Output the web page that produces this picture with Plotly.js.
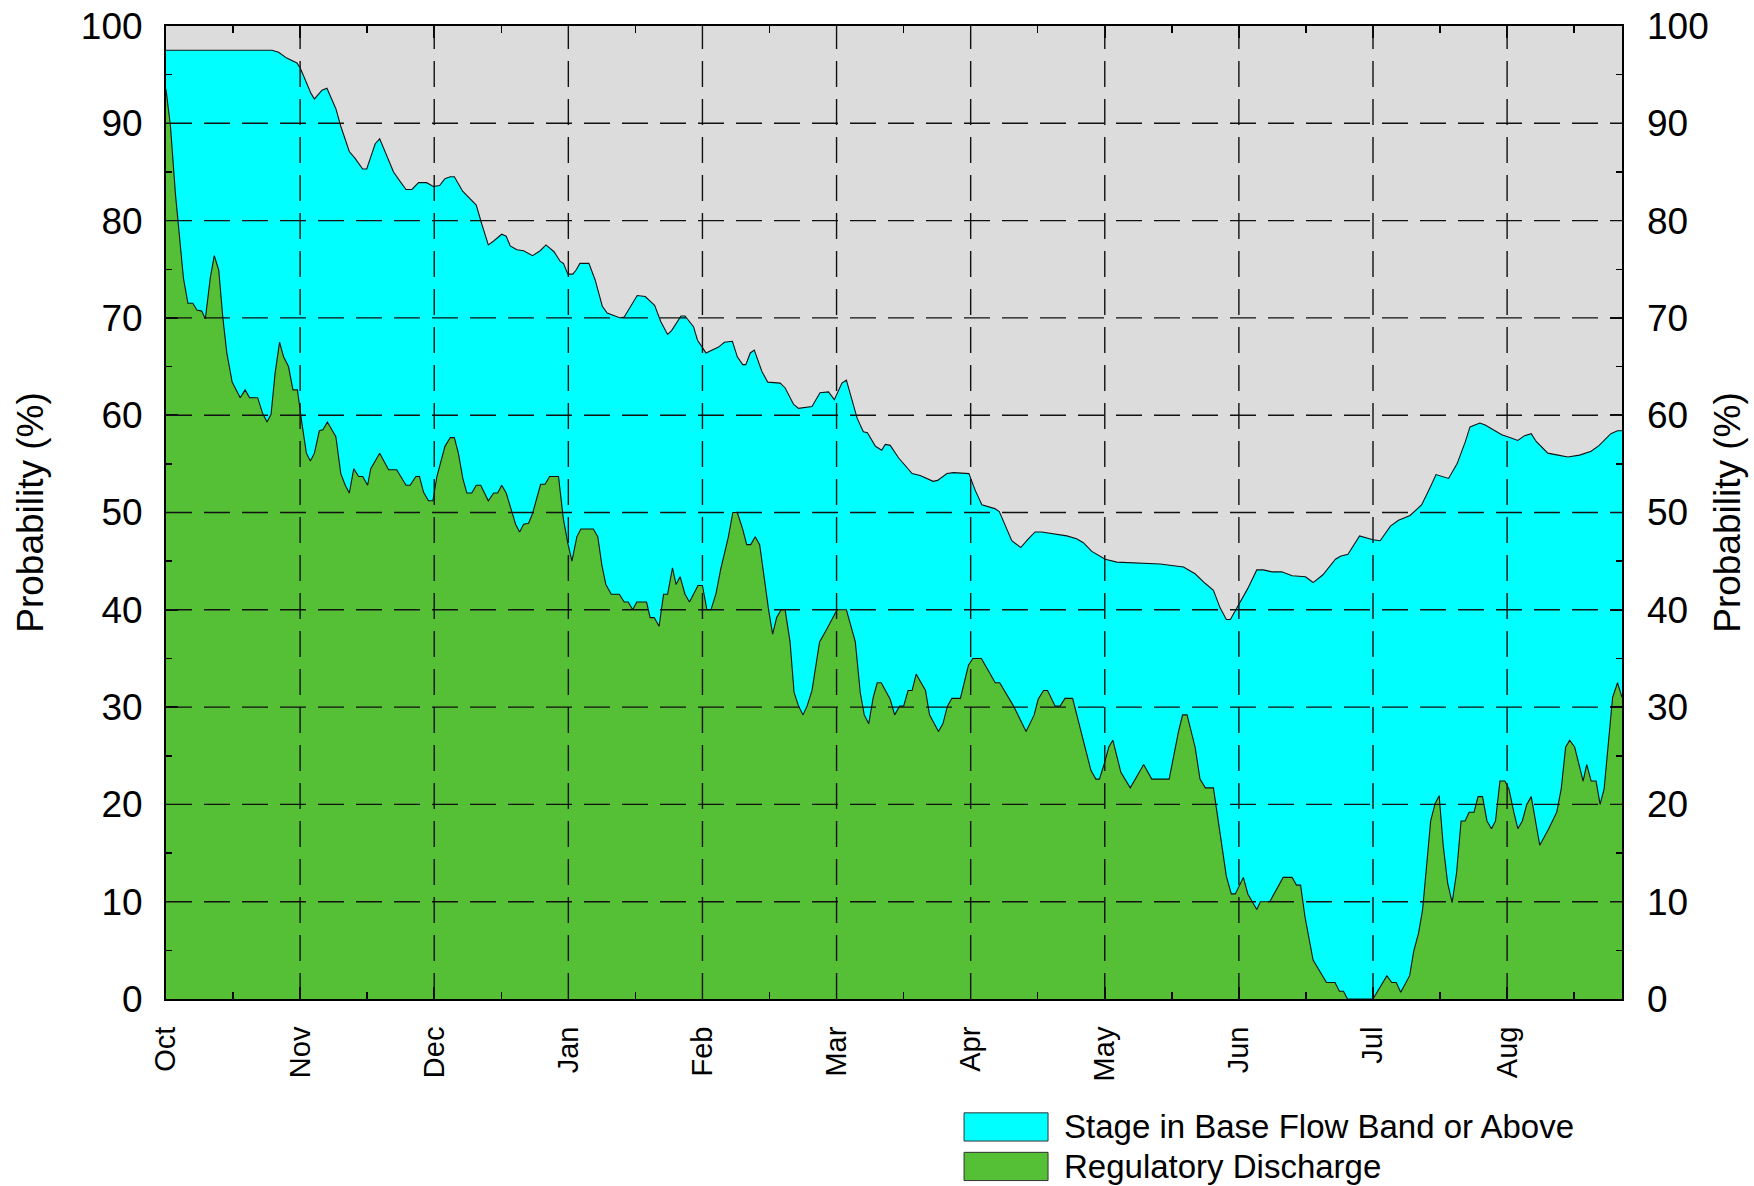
<!DOCTYPE html>
<html>
<head>
<meta charset="utf-8">
<script src="https://cdn.plot.ly/plotly-3.0.1.min.js"></script>
<style>
html,body{margin:0;padding:0;background:#ffffff;}
#chart{width:1754px;height:1186px;}
</style>
</head>
<body>
<div id="chart"></div>
<script>
// ---- tick labels / positions (x in days, 30 days per month) ----
const monthLabels = ['Oct','Nov','Dec','Jan','Feb','Mar','Apr','May','Jun','Jul','Aug'];
const monthDays = [0,30,60,90,120,150,180,210,240,270,300];
const halfMonthDays = [15,45,75,105,135,165,195,225,255,285,315];
const yTicks = [0,10,20,30,40,50,60,70,80,90,100];
const xEnd = 325.7;

// ---- series names ----
const upperName = 'Stage in Base Flow Band or Above';
const lowerName = 'Regulatory Discharge';

// ---- Stage in Base Flow Band or Above (upper line) ----
const upperDays = [0,23.7,25.2,27,29.3,30,31.5,32.4,33.2,34.9,36,38,39.1,41,42.3,44,44.9,46.8,47.8,49,50.9,52.4,53.7,55,56.5,58.3,59.8,61.2,62.4,63.6,64.5,66.4,68.4,69.4,70.6,72.1,73.3,75.1,76.1,77,78.5,80,82,83.7,85,86.8,88.2,88.9,89.9,91,91.7,92.6,94.6,96,97.6,98.7,101.6,102.5,105.4,107.2,109.3,110.7,112.2,113.1,115.2,116.1,118,118.9,120.8,123.6,124.9,126.7,127.8,129,129.7,130.7,131.6,133.3,134.6,137.4,138.5,140.4,141.5,144.5,146.3,148.2,149.5,151.2,152.2,153.4,154.6,156,156.9,158.7,160.1,160.9,162,163.9,166.9,168.7,171.6,172.6,174.7,176.2,179.6,181,182.5,185.4,186.4,189.2,191.2,192.9,194.4,195.9,201.5,203.7,205.2,207.1,210.1,212.7,217.2,222.4,227.6,230.2,232.5,234.3,235.8,237.2,238.1,239.9,242,244,245.5,247.4,249.6,251.9,254.9,256.6,258.8,261.6,262.7,264.4,267,270,271.6,273.9,275.7,278.3,280.9,282.8,284.1,286.9,288.8,290.6,291.7,293.9,295.1,296.9,298.8,300.6,302.4,303.9,305.4,306.5,309.1,311.4,313.6,316.2,318.8,320.6,323.2,324.7,325.7];
const upperVals = [97.5,97.5,97.3,96.7,96.2,95.7,94.1,93.1,92.5,93.4,93.6,91.5,89.7,87.1,86.4,85.3,85.3,87.9,88.4,87.1,85.0,84.0,83.2,83.2,83.9,83.9,83.5,83.6,84.3,84.5,84.5,83.0,82.1,81.6,79.7,77.5,77.9,78.6,78.4,77.4,77.0,76.9,76.4,76.9,77.5,76.8,75.8,75.6,74.5,74.5,74.9,75.6,75.6,73.9,71.2,70.5,70.0,70.1,72.3,72.2,71.3,69.6,68.3,68.7,70.2,70.2,69.1,67.7,66.4,67.0,67.5,67.6,66.0,65.2,65.2,66.4,66.7,64.5,63.4,63.3,62.8,61.1,60.7,60.9,62.3,62.4,61.6,63.3,63.6,61.6,59.7,58.3,58.2,56.8,56.4,57.0,56.9,55.6,54.0,53.8,53.2,53.3,54.0,54.1,54.0,52.3,50.8,50.4,50.1,47.1,46.4,47.3,48.0,48.0,47.6,47.3,46.9,46.0,45.2,44.9,44.8,44.7,44.4,43.7,42.7,42.0,40.2,39.0,39.0,40.5,42.2,44.1,44.1,43.9,43.9,43.5,43.4,42.8,43.6,45.2,45.5,45.7,47.6,47.2,47.1,48.6,49.2,49.7,50.8,52.6,53.9,53.5,55.0,57.2,58.8,59.2,59.0,58.5,58.0,57.7,57.4,57.9,58.1,57.3,56.1,55.9,55.7,55.9,56.3,56.9,58.1,58.4,58.4];

// ---- Regulatory Discharge (lower line) ----
const lowerDays = [0,1,2.1,3.9,4.9,6,6.9,8,8.8,9.9,10.8,11.8,12.7,13.6,14.8,16.6,17.7,18.7,20.5,21.6,22.6,23.5,24.4,25.4,26.3,27.4,28.4,29.4,30.4,31.4,32.3,33.2,34.3,35.1,36.1,38,39.1,40.1,41,42,43.1,44,45.1,45.8,47.8,49.8,51.6,53.7,54.6,55.9,56.7,57.6,58.7,59.7,60.6,62.4,63.6,64.5,65.4,66.4,67.3,68.4,69.4,70.4,72.1,73.3,74.2,75.1,76.1,77.3,78.2,79.1,80,81.1,82,83.8,84.8,85.8,87.8,88.9,89.9,90.8,91.9,92.8,95.6,96.6,97.5,98.4,99.6,101.4,102.5,103.4,104.4,105.3,107.5,108.3,109.2,110.3,111.3,112.2,113.3,114.1,115,116.1,117.1,119,120,121,121.9,123,124.1,125.8,126.8,127.8,129,129.9,130.8,131.8,132.8,134.8,135.7,136.6,137.6,138.5,139.6,140.5,141.5,142.5,143.4,144.5,146.2,147.8,149,150.1,152.2,154.2,155.3,156.2,157.2,158.2,159.1,160,162,163,164.1,165,166,166.9,167.8,169.9,170.8,171.9,172.8,173.8,174.8,175.8,177.7,179.5,180.5,182.4,185.5,186.5,189.6,192.4,194.2,195.1,196.3,197.2,198.9,200,201.1,202.8,204.7,206,206.9,208,208.8,209.9,210.9,211.8,213.6,215.7,218.7,220.5,224.4,226.5,227.4,228.4,230.2,231.3,232.5,234.3,235.8,237.2,238.3,239.2,241,242,244,244.8,246.9,249.9,251.9,252.9,253.8,254.8,256.6,259.6,261.5,262.5,263.4,264.3,270,273.1,274.2,275.2,276.2,278.2,279.1,280.2,281.1,282.9,283.9,284.8,285.7,286.7,287.7,288.7,289.7,290.6,291.5,292.6,293.5,294.5,295.5,296.5,297.4,298.4,299.5,300.4,301.5,302.4,303.4,304.4,305.4,307.3,309.3,311.1,312.1,313.1,314,315.1,317,317.8,318.8,319.9,320.8,321.7,323.6,324.7,325.7];
const lowerVals = [93.5,89.7,82.8,74.1,71.5,71.5,70.8,70.7,69.9,74.1,76.4,74.9,70.1,66.4,63.4,61.8,62.6,61.8,61.8,60.2,59.3,60.1,64.3,67.5,66.0,65.0,62.6,62.6,59.2,56.1,55.3,56.1,58.4,58.5,59.3,57.8,54.0,52.8,52.0,54.5,53.7,53.7,52.8,54.5,56.1,54.4,54.4,52.8,52.8,53.7,53.7,52.1,51.2,51.2,53.7,56.8,57.7,57.7,56.1,53.5,52.0,52.0,52.8,52.8,51.2,52.0,52.0,52.8,52.0,50.1,48.8,48.0,48.8,48.9,49.9,52.9,52.9,53.7,53.7,49.3,46.8,45.0,47.5,48.3,48.3,47.5,44.6,42.6,41.6,41.6,40.8,40.8,40.0,40.8,40.8,39.2,39.2,38.3,41.6,41.6,44.3,42.6,43.4,41.6,40.8,42.5,42.5,40.0,40.0,41.6,44.2,47.5,50.0,50.0,48.3,46.7,46.7,47.5,46.7,40.0,37.5,39.2,40.0,40.0,36.7,31.5,30.1,29.2,30.1,31.7,36.7,38.0,39.0,40.0,40.0,36.7,31.5,29.2,28.3,31.0,32.5,32.5,30.8,29.2,30.1,30.1,31.7,31.7,33.4,31.7,29.2,28.3,27.5,28.3,30.1,30.9,30.9,34.3,35.0,35.0,32.5,32.5,30.1,27.5,29.2,30.8,31.7,31.7,30.1,30.1,30.9,30.9,27.5,25.0,23.5,22.6,22.6,24.2,25.9,26.6,23.3,21.7,24.1,22.6,22.6,27.5,29.2,29.2,25.9,22.6,21.7,21.7,16.9,12.6,10.8,10.8,12.5,10.8,9.2,10.0,10.0,12.5,12.5,11.7,11.7,8.4,4.0,1.7,1.7,0.8,0.8,0,0,2.4,1.7,1.7,0.7,2.4,4.9,6.8,9.2,18.3,20.1,20.9,15.8,11.9,9.9,13.0,18.3,18.3,19.2,19.2,20.8,20.8,18.3,17.5,18.3,22.4,22.4,21.6,19.2,17.5,18.3,20.0,20.8,15.8,17.5,19.2,21.6,25.9,26.6,25.9,22.4,24.1,22.4,22.4,20.0,21.6,31.0,32.5,31.0];

// ---- styling ----
const FONT = 'Liberation Sans, Arial, Helvetica, sans-serif';
const cyan = '#00FFFF';
const green = '#55BF36';
const bg = '#DCDCDC';

const traces = [
  {x: upperDays, y: upperVals, name: upperName, type: 'scatter', mode: 'lines',
   fill: 'tozeroy', fillcolor: cyan, line: {color: '#111', width: 1.1}, showlegend: false, hoverinfo: 'x+y'},
  {x: lowerDays, y: lowerVals, name: lowerName, type: 'scatter', mode: 'lines',
   fill: 'tozeroy', fillcolor: green, line: {color: '#111', width: 1.1}, showlegend: false, hoverinfo: 'x+y'},
  {x: [0], y: [0], yaxis: 'y2', type: 'scatter', mode: 'lines', line: {width: 0},
   showlegend: false, hoverinfo: 'skip'}
];

// dashed grid drawn above the filled areas
const gridDash = '26px,12px';
const shapes = [];
monthDays.slice(1).forEach(d => shapes.push({type: 'line', xref: 'x', yref: 'paper', x0: d, x1: d, y0: 0, y1: 1,
  layer: 'above', line: {color: '#111', width: 1.4, dash: gridDash}}));
yTicks.slice(1, -1).forEach(v => shapes.push({type: 'line', xref: 'paper', yref: 'y', x0: 0, x1: 1, y0: v, y1: v,
  layer: 'above', line: {color: '#111', width: 1.4, dash: gridDash}}));

// custom legend (boxes + labels) below the plot
const legendItems = [[upperName, cyan], [lowerName, green]];
const annotations = [];
legendItems.forEach((it, i) => {
  const yc = -0.1315 - i * 0.0406;
  shapes.push({type: 'rect', xref: 'paper', yref: 'paper', x0: 0.5481, x1: 0.6058, y0: yc - 0.0145, y1: yc + 0.0145,
    fillcolor: it[1], line: {color: '#333', width: 1}});
  annotations.push({xref: 'paper', yref: 'paper', x: 0.6153, y: yc, xanchor: 'left', yanchor: 'middle',
    text: it[0], showarrow: false, font: {family: FONT, size: 33, color: '#000'}});
});

const layout = {
  width: 1754, height: 1186,
  margin: {l: 166, r: 132, t: 26, b: 187, pad: 0},
  paper_bgcolor: '#ffffff',
  plot_bgcolor: bg,
  font: {family: FONT, color: '#000'},
  xaxis: {
    range: [0, xEnd], tickmode: 'array', tickvals: monthDays, ticktext: monthLabels,
    tickangle: -90, tickfont: {family: FONT, size: 29, color: '#000'},
    ticks: 'inside', ticklen: 12, tickwidth: 1.5, tickcolor: '#000',
    minor: {tickmode: 'array', tickvals: halfMonthDays, ticks: 'inside', ticklen: 7, tickwidth: 1.5, tickcolor: '#000', showgrid: false},
    showgrid: false, zeroline: false, showline: true, linecolor: '#000', linewidth: 2, mirror: 'ticks',
    ticklabelstandoff: 14, layer: 'above traces', fixedrange: true
  },
  yaxis: {
    range: [0, 100], tickmode: 'array', tickvals: yTicks,
    tickfont: {family: FONT, size: 37, color: '#000'},
    ticks: 'inside', ticklen: 12, tickwidth: 1.5, tickcolor: '#000',
    minor: {dtick: 5, ticks: 'inside', ticklen: 6, tickwidth: 1.5, tickcolor: '#000', showgrid: false},
    showgrid: false, zeroline: false, showline: true, linecolor: '#000', linewidth: 2, mirror: 'ticks',
    ticklabelstandoff: 14, layer: 'above traces',
    title: {text: 'Probability (%)', font: {family: FONT, size: 37, color: '#000'}, standoff: 26}
  },
  yaxis2: {
    overlaying: 'y', side: 'right', range: [0, 100], tickmode: 'array', tickvals: yTicks,
    tickfont: {family: FONT, size: 37, color: '#000'},
    ticks: '', showgrid: false, zeroline: false, showline: false,
    ticklabelstandoff: 24,
    title: {text: 'Probability (%)', font: {family: FONT, size: 37, color: '#000'}, standoff: 6}
  },
  shapes: shapes,
  annotations: annotations,
  showlegend: false
};

Plotly.newPlot('chart', traces, layout, {staticPlot: true, displayModeBar: false});
</script>
</body>
</html>
